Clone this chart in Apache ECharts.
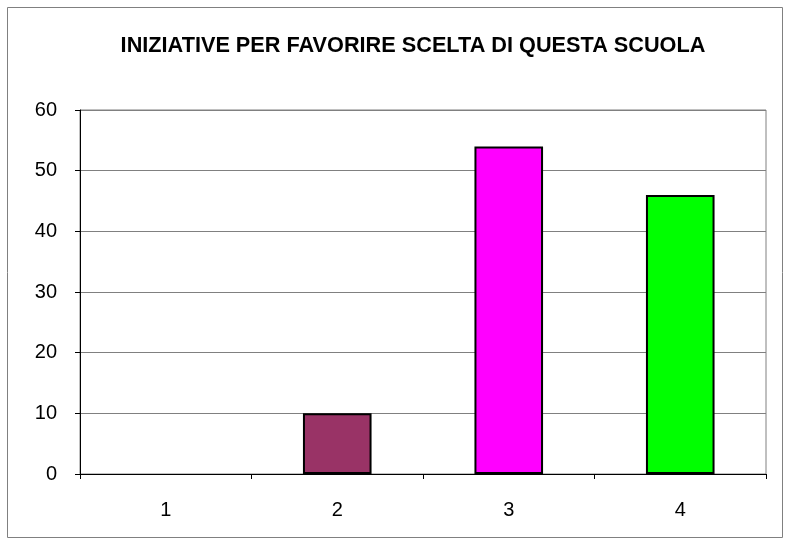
<!DOCTYPE html>
<html>
<head>
<meta charset="utf-8">
<script src="https://cdn.jsdelivr.net/npm/echarts@6/dist/echarts.min.js"></script>
<style>html,body{margin:0;padding:0;background:#fff}#c{width:791px;height:545px}</style>
</head>
<body>
<div id="c"></div>
<script>
var titleText = "INIZIATIVE PER FAVORIRE SCELTA DI QUESTA SCUOLA";
var categories = ["1", "2", "3", "4"];
var values = [0, 10, 54, 46];
var barColors = ["#993366", "#993366", "#FF00FF", "#00FF00"];
var yTicks = [0, 10, 20, 30, 40, 50, 60];

var chart = echarts.init(document.getElementById('c'), null, {renderer: 'canvas'});
chart.setOption({
  animation: false,
  backgroundColor: '#fff',
  textStyle: {fontFamily: 'Liberation Sans, Arial, sans-serif'},
  graphic: [{
    type: 'rect', shape: {x: 7.5, y: 7.5, width: 775, height: 530},
    style: {fill: 'none', stroke: '#808080', lineWidth: 1}, silent: true, z: -1
  }, {
    type: 'text', x: 413, y: 46,
    style: {text: titleText, fill: '#000', font: 'bold 21.7px "Liberation Sans", Arial, sans-serif', textAlign: 'center', textVerticalAlign: 'middle'}
  }],
  grid: {left: 80, top: 110, right: 25, bottom: 71, show: true, borderColor: '#808080', borderWidth: 1, backgroundColor: '#fff'},
  xAxis: {
    type: 'category', data: categories,
    axisLine: {lineStyle: {color: '#000', width: 1}},
    axisTick: {show: true, length: 5, lineStyle: {color: '#000'}},
    axisLabel: {color: '#000', fontSize: 20, margin: 26, fontFamily: 'Liberation Sans, Arial, sans-serif'},
    splitLine: {show: false}
  },
  yAxis: {
    type: 'value', min: yTicks[0], max: yTicks[yTicks.length - 1], interval: 10,
    axisLine: {show: true, lineStyle: {color: '#000', width: 1}},
    axisTick: {show: true, length: 5, lineStyle: {color: '#000'}},
    axisLabel: {color: '#000', fontSize: 20, margin: 23, fontFamily: 'Liberation Sans, Arial, sans-serif'},
    splitLine: {show: true, lineStyle: {color: '#808080', width: 1}}
  },
  series: [{
    type: 'bar', barWidth: '40%',
    data: values.map(function (v, i) {
      return {value: v, itemStyle: {color: barColors[i], borderColor: '#000', borderWidth: v > 0 ? 2 : 0}};
    })
  }]
});
</script>
</body>
</html>
